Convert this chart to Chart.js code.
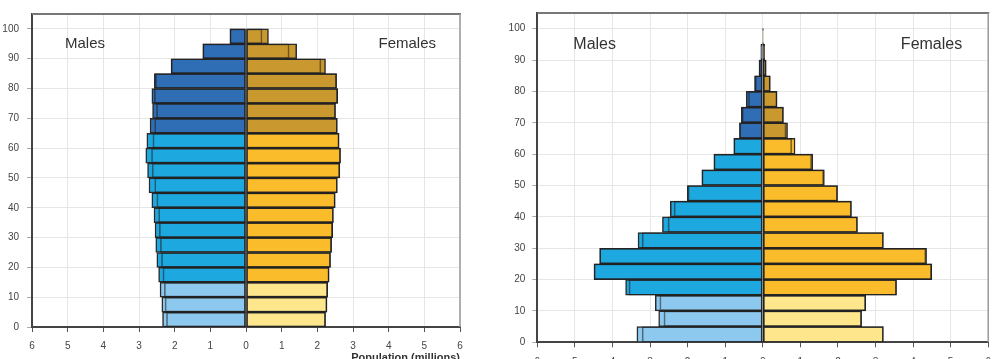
<!DOCTYPE html>
<html><head><meta charset="utf-8">
<script src="https://cdn.jsdelivr.net/npm/chart.js@4.4.1/dist/chart.umd.min.js"></script>
<style>
html,body{margin:0;padding:0;width:1000px;height:359px;overflow:hidden;background:#fff;}
canvas{position:absolute;top:0;}
#c1{left:0;} #c2{left:500px;}
</style></head><body>
<canvas id="c1" width="490" height="372"></canvas>
<canvas id="c2" width="500" height="380"></canvas>
<script>
// ---- data (millions), age groups 0-4 ... 95-99 ----
const ageGroups = ['0-4','5-9','10-14','15-19','20-24','25-29','30-34','35-39','40-44','45-49',
                   '50-54','55-59','60-64','65-69','70-74','75-79','80-84','85-89','90-94','95-99'];
const ageStarts = [0,5,10,15,20,25,30,35,40,45,50,55,60,65,70,75,80,85,90,95];
const ageWidth = 5;

const malesLeft   = [2.34,2.36,2.41,2.45,2.50,2.53,2.55,2.58,2.64,2.72,2.76,2.81,2.78,2.69,2.62,2.64,2.57,2.10,1.21,0.45];
const femalesLeft = [2.23,2.27,2.29,2.33,2.37,2.40,2.43,2.45,2.50,2.56,2.63,2.65,2.61,2.56,2.51,2.57,2.54,2.23,1.42,0.63];

const malesRight   = [3.35,2.77,2.86,3.65,4.49,4.34,3.32,2.67,2.46,2.01,1.62,1.30,0.77,0.62,0.57,0.44,0.22,0.10,0.05,0.015];
const femalesRight = [3.21,2.63,2.74,3.56,4.50,4.36,3.21,2.52,2.36,1.99,1.64,1.33,0.86,0.66,0.55,0.38,0.20,0.09,0.05,0.015];

const xTickValues = [-6,-5,-4,-3,-2,-1,0,1,2,3,4,5,6];
const yTickValues = [0,10,20,30,40,50,60,70,80,90,100];
const xTitle = 'Population (millions)';
const maleLabel = 'Males';
const femaleLabel = 'Females';

// ---- styling ----
const FONT = "'Liberation Sans', Arial, sans-serif";
const maleColors   = ['#8dc8ee', '#1ea8e0', '#2f6db5'];   // 0-14, 15-64, 65+
const femaleColors = ['#fde68c', '#fbbc2b', '#c9992f'];
function band(age){ return age < 15 ? 0 : (age < 65 ? 1 : 2); }

const framePlugin = {
  id: 'frame',
  afterDatasetsDraw(chart, args, o) {
    const {ctx, chartArea: a} = chart;
    ctx.save();
    ctx.strokeStyle = o.topColor; ctx.lineWidth = 2;
    ctx.beginPath(); ctx.moveTo(a.left, a.top); ctx.lineTo(a.right + 1, a.top); ctx.stroke();
    ctx.strokeStyle = o.rightColor; ctx.lineWidth = 1.5;
    ctx.beginPath(); ctx.moveTo(a.right, a.top); ctx.lineTo(a.right, a.bottom); ctx.stroke();
    ctx.restore();
  }
};
const sexLabelPlugin = {
  id: 'sexLabels',
  afterDraw(chart, args, o) {
    const {ctx, chartArea: a} = chart;
    ctx.save();
    ctx.fillStyle = '#333';
    ctx.font = o.size + 'px ' + FONT;
    ctx.textBaseline = 'alphabetic';
    ctx.textAlign = 'left';
    ctx.fillText(maleLabel, a.left + o.dxLeft, a.top + o.dy);
    ctx.textAlign = 'right';
    ctx.fillText(femaleLabel, a.right - o.dxRight, a.top + o.dy);
    ctx.restore();
  }
};

function makeChart(id, males, females, g) {
  const mid = ageStarts.map(a => a + ageWidth / 2);
  const common = {grouped: false, barPercentage: 1, categoryPercentage: 1, borderSkipped: false};
  const datasets = [
    Object.assign({label: 'm-outline', data: males.map((m, i) => ({x: -Math.min(m, females[i]), y: mid[i]})),
      backgroundColor: 'rgba(0,0,0,0)', borderColor: 'rgba(30,30,30,0.55)', borderWidth: 1}, common),
    Object.assign({label: 'f-outline', data: females.map((f, i) => ({x: Math.min(f, males[i]), y: mid[i]})),
      backgroundColor: 'rgba(0,0,0,0)', borderColor: 'rgba(30,30,30,0.55)', borderWidth: 1}, common),
    Object.assign({label: maleLabel, data: males.map((m, i) => ({x: -m, y: mid[i]})),
      backgroundColor: ageStarts.map(a => maleColors[band(a)]), borderColor: '#2a2a2a', borderWidth: 1.5}, common),
    Object.assign({label: femaleLabel, data: females.map((f, i) => ({x: f, y: mid[i]})),
      backgroundColor: ageStarts.map(a => femaleColors[band(a)]), borderColor: '#2a2a2a', borderWidth: 1.5}, common)
  ];
  return new Chart(document.getElementById(id), {
    type: 'bar',
    data: {datasets},
    plugins: [framePlugin, sexLabelPlugin],
    options: {
      indexAxis: 'y',
      responsive: false,
      animation: false,
      devicePixelRatio: 1,
      layout: {padding: {left: 0, top: g.padTop, right: g.padRight, bottom: 0}},
      plugins: {
        legend: {display: false},
        tooltip: {enabled: false},
        frame: {topColor: '#777', rightColor: '#999'},
        sexLabels: g.labels
      },
      scales: {
        x: {
          type: 'linear', min: xTickValues[0], max: xTickValues[xTickValues.length - 1],
          afterBuildTicks: s => { s.ticks = xTickValues.map(v => ({value: v})); },
          ticks: {callback: v => String(Math.abs(v)), color: '#444', font: {family: FONT, size: 10}, padding: g.xPad, maxRotation: 0, autoSkip: false},
          grid: {color: '#e6e6e6', lineWidth: 1, tickColor: '#555', tickLength: 5},
          border: {color: '#444', width: 2},
          title: {display: g.showTitle, text: xTitle, align: 'end', color: '#333',
                  font: {family: FONT, size: 11, weight: 'bold'}, padding: {top: 0, bottom: 7}},
          afterFit: s => { s.height = g.xHeight; }
        },
        y: {
          type: 'linear', min: 0, max: 105, offset: false,
          afterBuildTicks: s => { s.ticks = yTickValues.map(v => ({value: v})); },
          ticks: {color: '#444', font: {family: FONT, size: 10}, padding: g.yPad},
          grid: {offset: false, color: '#e6e6e6', lineWidth: 1, tickColor: '#aaa', tickLength: 5},
          border: {color: '#444', width: 2},
          afterFit: s => { s.width = g.yWidth; }
        }
      }
    }
  });
}

makeChart('c1', malesLeft, femalesLeft, {
  padTop: 6, padRight: 30, yWidth: 32, xHeight: 45, xPad: 8, yPad: 8, showTitle: true,
  labels: {size: 15, dxLeft: 33, dxRight: 24, dy: 34}
});
makeChart('c2', malesRight, femalesRight, {
  padTop: 5, padRight: 10.7, yWidth: 37.3, xHeight: 37.7, xPad: 9, yPad: 7, showTitle: false,
  labels: {size: 16, dxLeft: 36, dxRight: 26, dy: 36}
});
</script>
</body></html>
